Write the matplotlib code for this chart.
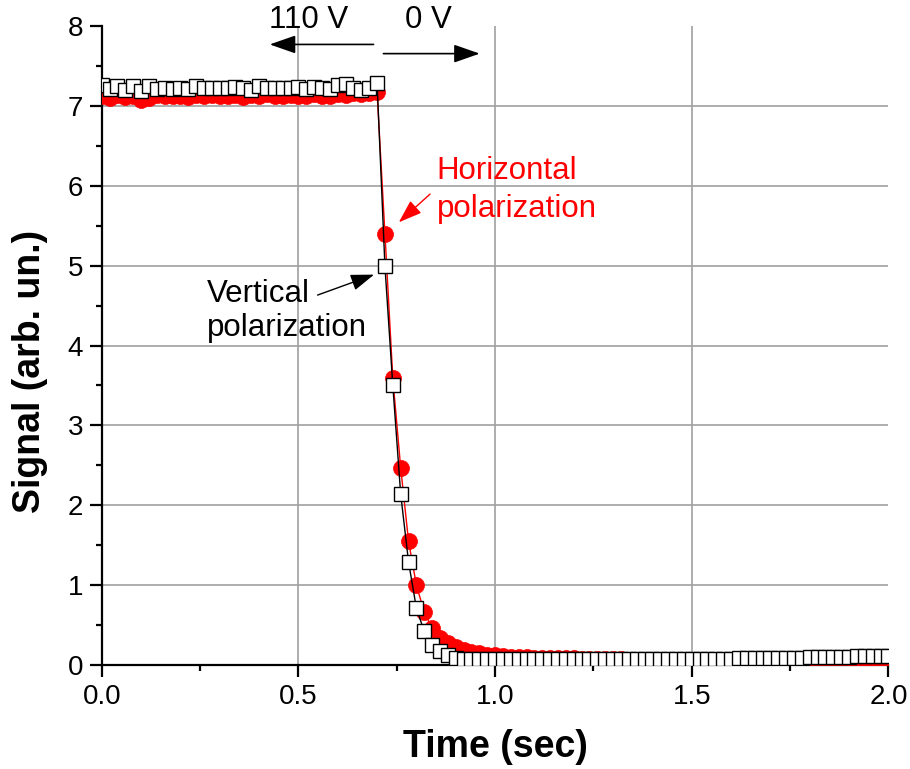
import numpy as np
import matplotlib

matplotlib.use("Agg")
import matplotlib.pyplot as plt
from matplotlib.ticker import MultipleLocator

plt.rcParams["font.family"] = ["Liberation Sans", "DejaVu Sans"]

# ---- data ------------------------------------------------------------------
# sampled every 20 ms from 0 to 2 s
time_s = np.round(np.arange(101) * 0.02, 2)

horizontal = [
    7.12, 7.10, 7.14, 7.11, 7.13, 7.08, 7.10, 7.14, 7.12, 7.13,
    7.12, 7.11, 7.14, 7.12, 7.14, 7.13, 7.12, 7.14, 7.11, 7.14,
    7.12, 7.15, 7.12, 7.12, 7.14, 7.12, 7.13, 7.15, 7.13, 7.12,
    7.15, 7.14, 7.16, 7.15, 7.16, 7.17,
    5.40, 3.59, 2.47, 1.55, 1.00, 0.66, 0.46, 0.34, 0.27, 0.22,
    0.19, 0.16, 0.145, 0.13, 0.12,
    0.112, 0.106, 0.101, 0.097, 0.094, 0.091, 0.088, 0.086, 0.084, 0.082,
    0.080, 0.078, 0.076, 0.074, 0.072, 0.070, 0.068, 0.066, 0.064, 0.062,
    0.060, 0.060, 0.059, 0.058, 0.058, 0.057, 0.056, 0.056, 0.055, 0.055,
    0.054, 0.054, 0.053, 0.053, 0.052, 0.052, 0.051, 0.051, 0.050, 0.050,
    0.049, 0.049, 0.048, 0.048, 0.047, 0.047, 0.046, 0.046, 0.045, 0.045,
]

vertical = [
    7.26, 7.21, 7.25, 7.20, 7.25, 7.19, 7.25, 7.21, 7.22, 7.21,
    7.22, 7.21, 7.25, 7.22, 7.22, 7.22, 7.23, 7.24, 7.22, 7.20,
    7.25, 7.22, 7.23, 7.22, 7.22, 7.24, 7.21, 7.24, 7.22, 7.21,
    7.26, 7.27, 7.22, 7.20, 7.22, 7.29,
    4.99, 3.50, 2.14, 1.29, 0.71, 0.42, 0.25, 0.17, 0.12, 0.09,
    0.08, 0.075, 0.072, 0.070, 0.070,
    0.070, 0.070, 0.070, 0.070, 0.070, 0.070, 0.070, 0.070, 0.070, 0.070,
    0.070, 0.070, 0.071, 0.071, 0.071, 0.072, 0.072, 0.072, 0.073, 0.073,
    0.074, 0.074, 0.075, 0.075, 0.076, 0.077, 0.078, 0.079, 0.080, 0.081,
    0.082, 0.083, 0.085, 0.086, 0.088, 0.089, 0.091, 0.092, 0.094, 0.096,
    0.098, 0.100, 0.102, 0.104, 0.106, 0.108, 0.110, 0.112, 0.113, 0.115,
]

X_TICKS = [0.0, 0.5, 1.0, 1.5, 2.0]
Y_TICKS = [0, 1, 2, 3, 4, 5, 6, 7, 8]

RED = "#FF0000"
GRID = "#A0A0A0"

fig = plt.figure(figsize=(9.10, 7.69), dpi=100, facecolor="white")
ax = fig.add_axes([0.1118, 0.1352, 0.8645, 0.8309])

ax.plot(time_s, horizontal, "-o", color=RED, lw=1.0, ms=11.5,
        mfc=RED, mec=RED, mew=0.5, zorder=3)
ax.plot(time_s, vertical, "-s", color="black", lw=1.0, ms=9.5,
        mfc="white", mec="black", mew=1.0, zorder=4)

ax.set_xlim(0, 2.0)
ax.set_ylim(0, 8)
ax.set_xticks(X_TICKS)
ax.set_xticklabels([f"{v:.1f}" for v in X_TICKS])
ax.set_yticks(Y_TICKS)
ax.xaxis.set_minor_locator(MultipleLocator(0.25))
ax.yaxis.set_minor_locator(MultipleLocator(0.5))

# grid only on the inner major ticks (no line along the top / right edge)
for v in X_TICKS[1:-1]:
    ax.axvline(v, color=GRID, lw=1.2, zorder=0)
for v in Y_TICKS[1:-1]:
    ax.axhline(v, color=GRID, lw=1.2, zorder=0)
for side in ("top", "right"):
    ax.spines[side].set_visible(False)
for side in ("left", "bottom"):
    ax.spines[side].set_linewidth(1.6)

ax.tick_params(which="major", direction="out", length=8.5, width=1.6,
               labelsize=20, pad=5)
ax.tick_params(which="minor", direction="out", length=4.3, width=1.6)

ax.set_xlabel("Time (sec)", fontsize=27, fontweight="bold", labelpad=14)
ax.set_ylabel("Signal (arb. un.)", fontsize=27, fontweight="bold",
              va="center")
ax.yaxis.set_label_coords(-0.091, 0.46)

# voltage step markers
head = "-|>,head_length=0.8,head_width=0.28"
arrow_kw = dict(arrowstyle=head, color="black", lw=1.2, mutation_scale=20)
ax.annotate("", xy=(0.420, 7.77), xytext=(0.698, 7.77),
            arrowprops=arrow_kw, annotation_clip=False)
ax.annotate("", xy=(0.968, 7.655), xytext=(0.709, 7.655),
            arrowprops=arrow_kw, annotation_clip=False)
ax.text(0.527, 8.07, "110 V", ha="center", va="center", fontsize=22.5,
        clip_on=False)
ax.text(0.831, 8.07, "0 V", ha="center", va="center", fontsize=22.5,
        clip_on=False)

# series labels
ax.text(0.851, 6.09, "Horizontal", color=RED, fontsize=22.5, va="baseline")
ax.text(0.851, 5.61, "polarization", color=RED, fontsize=22.5, va="baseline")
ax.annotate("", xy=(0.750, 5.52), xytext=(0.840, 5.92),
            arrowprops=dict(arrowstyle=head, color=RED, lw=1.0,
                            mutation_scale=18))

ax.text(0.267, 4.55, "Vertical", color="black", fontsize=22.5, va="baseline")
ax.text(0.267, 4.12, "polarization", color="black", fontsize=22.5,
        va="baseline")
ax.annotate("", xy=(0.699, 4.90), xytext=(0.542, 4.62),
            arrowprops=dict(arrowstyle=head, color="black", lw=1.0,
                            mutation_scale=18))

fig.savefig("out.png", dpi=100, facecolor="white")
